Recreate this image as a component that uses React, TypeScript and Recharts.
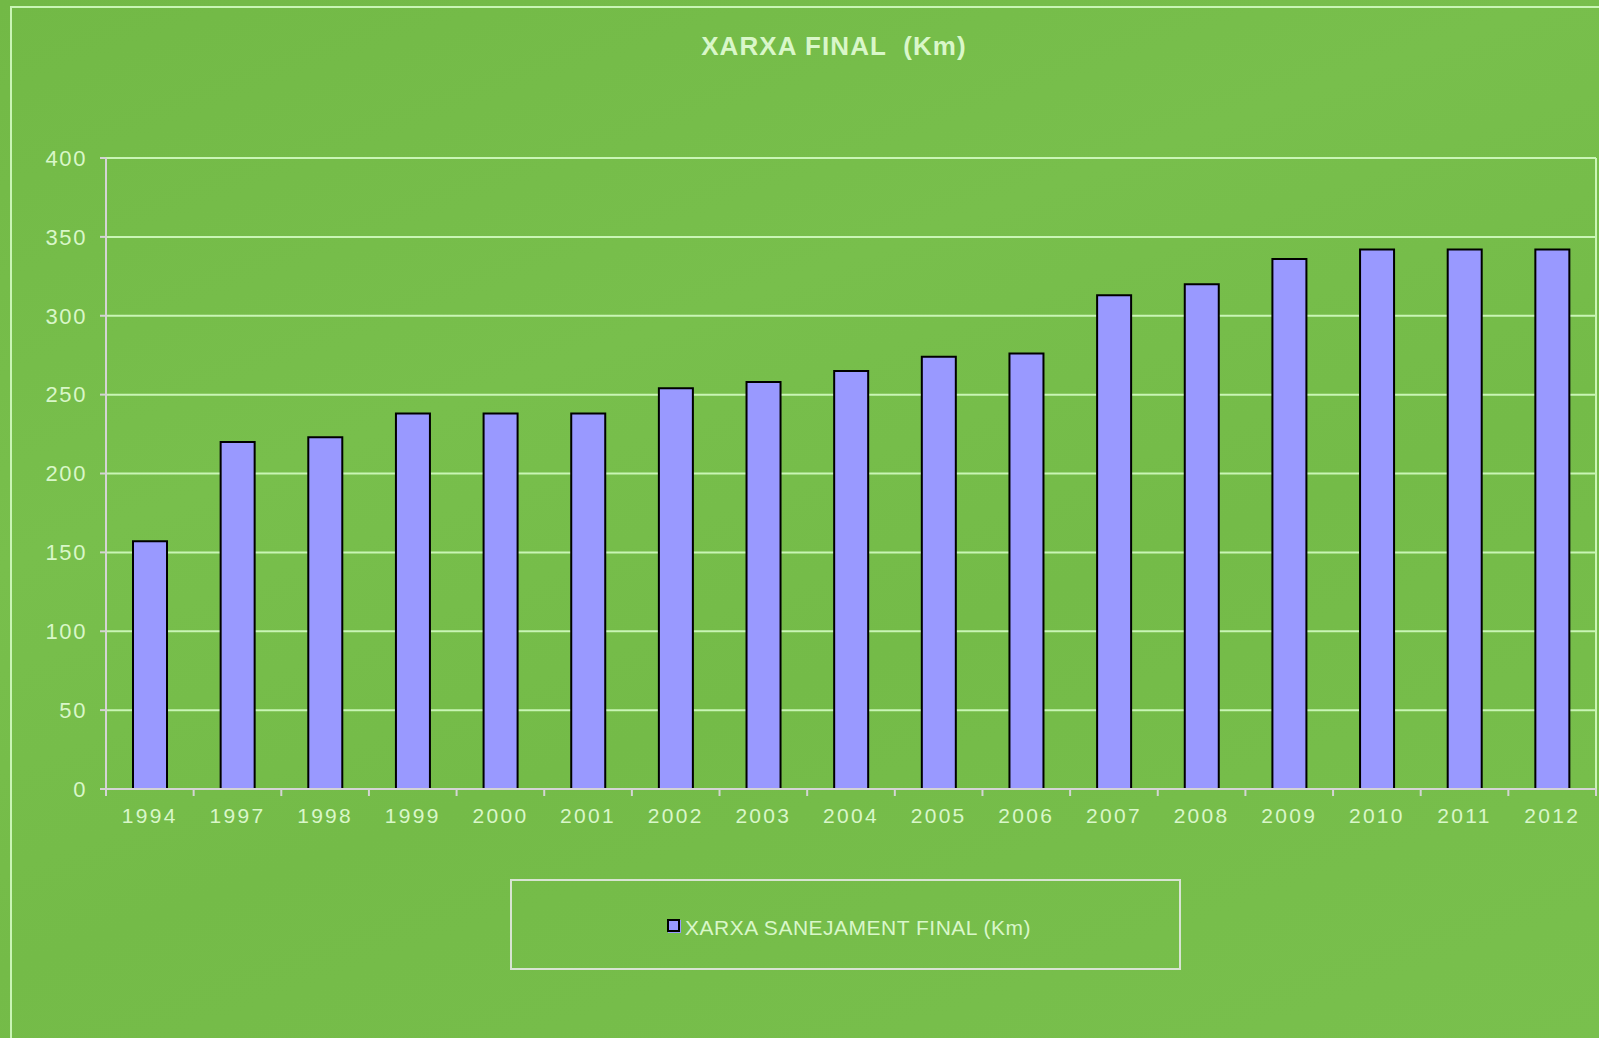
import React from "react";
import { Bar, BarChart, CartesianGrid, XAxis, YAxis } from "recharts";

const years = ["1994", "1997", "1998", "1999", "2000", "2001", "2002", "2003", "2004", "2005", "2006", "2007", "2008", "2009", "2010", "2011", "2012"];
const km = [157, 220, 223, 238, 238, 238, 254, 258, 265, 274, 276, 313, 320, 336, 342, 342, 342];
const yTicks = [0, 50, 100, 150, 200, 250, 300, 350, 400];
const seriesName = "XARXA SANEJAMENT FINAL (Km)";
const title = "XARXA FINAL  (Km)";

const data = years.map((year, i) => ({ year, km: km[i] }));

const TEXT = "#d9f7c9";
const AXIS = "#d4d4d4";
const GRID = "#c9f5b5";
const FONT = "'Liberation Sans', Arial, sans-serif";

// category labels centred, tick marks on the band boundaries like the original
function XTick(props: any) {
  const { x, y, payload, index, visibleTicksCount, width } = props;
  const off = payload?.offset ?? width / (2 * visibleTicksCount);
  const axisY = y - 14;
  const last = index === visibleTicksCount - 1;
  return (
    <g>
      <line x1={x - off} x2={x - off} y1={axisY} y2={axisY + 7} stroke={AXIS} strokeWidth={2} />
      {last && <line x1={x + off} x2={x + off} y1={axisY} y2={axisY + 7} stroke={AXIS} strokeWidth={2} />}
      <text x={x} y={y} dy={20} textAnchor="middle" fill={TEXT} fontSize={21} letterSpacing={2.3} fontFamily={FONT}>
        {payload.value}
      </text>
    </g>
  );
}

export default function App() {
  return (
    <div
      style={{
        position: "absolute",
        left: 0,
        top: 0,
        width: 1599,
        height: 1038,
        overflow: "hidden",
        background: "linear-gradient(160deg, #72b946 0%, #78bf4c 35%, #74bb48 60%, #79c04d 100%)",
        fontFamily: FONT,
      }}
    >
      <div style={{ position: "absolute", left: 10, top: 6, width: 1700, height: 1200, border: `2px solid ${GRID}` }} />
      <div
        style={{
          position: "absolute",
          left: 834,
          top: 31,
          transform: "translateX(-50%)",
          whiteSpace: "pre",
          color: TEXT,
          fontWeight: "bold",
          fontSize: 26,
          letterSpacing: 1.1,
        }}
      >
        {title}
      </div>
      <div style={{ position: "absolute", left: 0, top: 0 }}>
        <BarChart width={1599} height={1038} data={data} margin={{ top: 158, right: 3, left: 46, bottom: 209 }}>
          <CartesianGrid
            stroke={GRID}
            strokeWidth={2}
            verticalCoordinatesGenerator={({ offset }: any) => [offset.left + offset.width]}
          />
          <XAxis
            dataKey="year"
            height={40}
            interval={0}
            tickSize={6}
            tickMargin={8}
            tickLine={false}
            axisLine={{ stroke: AXIS, strokeWidth: 2 }}
            tick={<XTick />}
          />
          <YAxis
            width={60}
            domain={[0, 400]}
            ticks={yTicks}
            interval={0}
            tickSize={6}
            tickMargin={13}
            axisLine={{ stroke: AXIS, strokeWidth: 2 }}
            tickLine={{ stroke: AXIS, strokeWidth: 2 }}
            tick={{ fill: TEXT, fontSize: 22, letterSpacing: 1.6, fontFamily: FONT }}
          />
          <Bar dataKey="km" name={seriesName} fill="#9999ff" stroke="#000000" strokeWidth={2} barSize={34} isAnimationActive={false} />
        </BarChart>
      </div>
      <div
        style={{
          position: "absolute",
          left: 510,
          top: 879,
          width: 667,
          height: 87,
          border: "2px solid #d8e4d2",
        }}
      />
      <div style={{ position: "absolute", left: 667, top: 919, width: 9, height: 9, background: "#9999ff", border: "2px solid #000", boxShadow: "1px 1px 0 #9999ff" }} />
      <div style={{ position: "absolute", left: 685, top: 916, color: TEXT, fontSize: 21, letterSpacing: 0.5, whiteSpace: "pre" }}>{seriesName}</div>
    </div>
  );
}
